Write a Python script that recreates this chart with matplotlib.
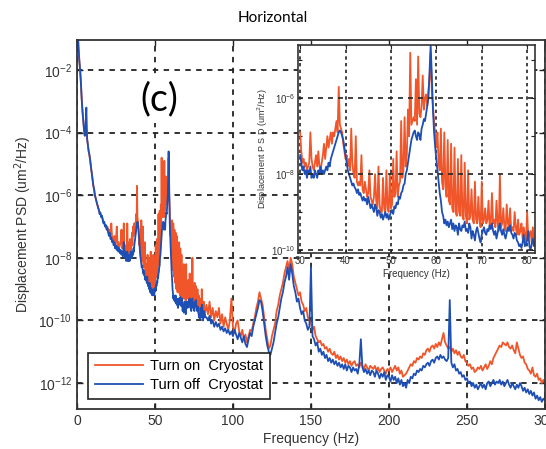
import numpy as np
import matplotlib
matplotlib.use("Agg")
import matplotlib.pyplot as plt
from matplotlib.ticker import FixedLocator, FixedFormatter, NullLocator

plt.rcParams['font.family'] = ['Liberation Sans', 'DejaVu Sans']

# ---------------- data (log10 of PSD, um^2/Hz) ----------------
# low band 0.5 .. 29.5 Hz, step 0.5 Hz
low_freq = np.arange(0.5, 29.75, 0.5)
low_off = [-0.8, -1.3, -1.7, -2.0, -2.4,
           -2.9, -3.3, -3.6, -3.9, -4.1,
           -3.8, -3.2, -4.2, -4.4, -4.6,
           -4.7, -4.9, -5.1, -5.3, -5.5,
           -5.7, -5.8, -6.0, -6.1, -6.2,
           -6.3, -6.4, -6.45, -6.6, -6.55,
           -6.7, -6.65, -6.8, -6.9, -6.85,
           -7.0, -6.95, -7.1, -7.05, -7.2,
           -7.3, -7.2, -7.4, -7.35, -7.5,
           -7.45, -7.6, -7.5, -7.7, -7.6,
           -7.75, -7.65, -7.8, -7.7, -7.85,
           -7.75, -7.9, -7.8, -7.95]
low_on = [-0.8, -1.3, -1.7, -2.0, -2.4,
          -2.9, -3.3, -3.6, -3.9, -4.1,
          -4.0, -3.9, -4.2, -4.4, -4.6,
          -4.75, -4.9, -5.15, -5.3, -5.5,
          -5.7, -5.85, -6.0, -6.1, -6.2,
          -6.3, -6.35, -6.5, -6.55, -6.6,
          -6.65, -6.7, -6.75, -6.85, -6.9,
          -6.95, -7.0, -7.05, -7.0, -7.15,
          -7.2, -7.1, -7.3, -6.9, -7.35,
          -7.4, -7.5, -7.3, -7.55, -7.45,
          -7.0, -7.6, -7.5, -7.7, -7.6,
          -7.5, -7.1, -7.7, -7.6]

# zoom band 30 .. 82 Hz, step 0.25 Hz (also shown in the inset)
mid_freq = np.arange(30.0, 82.001, 0.25)
mid_off = [-7.5, -7.7, -7.9, -7.8, -8.0, -7.9, -8.1, -7.9,
           -8.0, -7.8, -8.1, -8.0, -8.1, -7.9, -8.0, -8.1,
           -7.9, -8.0, -7.8, -8.0, -7.9, -8.0, -7.9, -7.8,
           -7.9, -7.7, -7.8, -7.6, -7.5, -7.4, -7.3, -7.2,
           -7.1, -7.0, -6.9, -6.85, -6.9, -7.0, -7.1, -7.3,
           -7.5, -7.7, -7.9, -8.0, -8.1, -8.2, -8.3, -8.25,
           -8.35, -8.4, -8.5, -8.4, -8.55, -8.5, -8.6, -8.7,
           -8.6, -8.7, -8.65, -8.8, -8.6, -8.75, -8.9, -8.8,
           -8.9, -9.0, -8.8, -8.9, -9.1, -8.95, -9.0, -9.15,
           -9.05, -9.2, -9.1, -9.0, -9.15, -9.05, -9.2, -9.1,
           -9.0, -8.95, -9.05, -8.85, -8.9, -8.75, -8.8, -8.6,
           -8.65, -8.5, -8.45, -8.3, -8.25, -8.0, -7.9, -7.7,
           -7.5, -7.3, -7.1, -7.0, -6.9, -6.85, -7.0, -7.1,
           -6.9, -6.95, -7.1, -6.8, -6.7, -6.55, -6.6, -6.4,
           -6.2, -6.0, -5.3, -4.6, -5.4, -6.3, -6.9, -7.3,
           -7.6, -7.9, -8.2, -8.5, -8.7, -9.0, -9.1, -9.3,
           -9.2, -9.35, -9.25, -9.4, -9.3, -9.2, -9.45, -9.3,
           -9.5, -9.35, -9.4, -9.6, -9.3, -9.45, -9.5, -9.35,
           -9.4, -9.25, -9.5, -9.45, -9.55, -9.3, -9.4, -9.7,
           -9.5, -9.6, -9.75, -9.5, -9.4, -9.55, -9.7, -9.8,
           -9.6, -9.5, -9.4, -9.55, -9.6, -9.45, -9.5, -9.35,
           -9.45, -9.3, -9.5, -9.6, -9.5, -9.7, -9.55, -9.4,
           -9.3, -9.5, -9.6, -9.45, -9.6, -9.7, -9.55, -9.4,
           -9.5, -9.35, -9.55, -9.6, -9.7, -9.55, -9.6, -9.75,
           -9.8, -9.9, -9.85, -9.95, -9.8, -9.6, -9.9, -9.85,
           -9.75, -9.5, -9.9, -10.0, -9.85, -9.7, -9.9, -9.8,
           -9.9]
mid_on = [-6.9, -7.4, -7.7, -7.6, -7.8, -7.7, -7.9, -7.8,
          -7.7, -6.9, -7.6, -7.8, -7.9, -7.7, -7.5, -7.8,
          -7.4, -7.8, -7.9, -7.7, -7.5, -7.2, -7.6, -7.3,
          -7.0, -7.3, -7.1, -6.9, -7.2, -6.9, -7.0, -6.8,
          -6.6, -6.9, -5.7, -6.7, -6.8, -6.9, -7.2, -7.4,
          -7.6, -7.5, -7.8, -7.6, -7.9, -6.8, -7.7, -8.0,
          -8.1, -7.0, -8.2, -8.3, -8.2, -8.3, -7.5, -8.4,
          -8.5, -8.2, -8.4, -8.6, -8.5, -7.9, -8.6, -8.7,
          -8.8, -8.6, -8.0, -8.7, -8.9, -7.8, -8.8, -9.0,
          -9.0, -8.1, -8.9, -9.0, -7.9, -8.9, -9.0, -8.0,
          -8.9, -8.8, -7.6, -8.6, -8.5, -7.4, -8.6, -8.3,
          -8.2, -6.6, -8.1, -7.9, -6.5, -7.8, -7.5, -6.3,
          -7.0, -4.8, -6.7, -6.6, -6.5, -6.6, -5.5, -6.7,
          -4.9, -6.4, -6.5, -6.2, -5.4, -6.3, -6.0, -5.9,
          -6.2, -5.8, -5.5, -4.8, -5.8, -6.2, -6.6, -7.0,
          -7.3, -6.9, -7.7, -7.9, -6.8, -8.2, -8.4, -6.9,
          -8.3, -8.6, -7.1, -8.7, -8.8, -7.2, -8.9, -9.0,
          -7.3, -9.0, -9.1, -7.6, -9.0, -9.1, -7.5, -9.1,
          -9.2, -7.7, -9.1, -9.3, -7.9, -9.2, -9.1, -8.4,
          -9.2, -9.3, -8.2, -9.2, -9.3, -8.6, -9.2, -9.4,
          -8.2, -9.3, -9.2, -8.9, -9.3, -9.2, -8.7, -9.4,
          -9.3, -8.5, -9.3, -9.2, -9.4, -8.7, -9.3, -9.5,
          -8.0, -9.4, -9.3, -8.9, -9.4, -9.5, -8.8, -9.3,
          -9.4, -8.9, -9.5, -9.4, -9.5, -9.0, -9.4, -9.6,
          -9.2, -9.6, -9.5, -9.3, -9.7, -9.4, -9.6, -9.8,
          -9.0, -9.7, -9.6, -9.5, -9.8, -9.4, -9.7, -9.9,
          -9.8]

# high band 83 .. 300 Hz, step 1 Hz
high_freq = np.arange(83, 301, 1)
high_off = [-9.9, -10.0, -9.85, -10.1, -10.0, -10.2, -10.05,
            -10.2, -10.1, -10.3, -10.2, -10.35, -10.25, -10.4, -10.3, -10.45, -10.35,
            -10.5, -10.3, -10.45, -10.6, -10.4, -10.55, -10.7, -10.5, -10.75, -10.85,
            -10.6, -10.4, -10.5, -10.2, -10.0, -9.8, -9.6, -9.35, -9.4, -9.7,
            -10.1, -10.5, -10.8, -11.0, -11.1, -10.9, -10.7, -10.4, -10.1, -9.9,
            -9.6, -9.3, -9.1, -8.8, -8.6, -8.3, -8.7, -8.2, -8.5, -8.9,
            -9.1, -9.4, -9.3, -9.6, -9.8, -9.7, -10.0, -10.1, -10.3, -10.2,
            -8.3, -10.5, -10.6, -10.8, -10.7, -11.0, -10.9, -11.1, -11.0, -11.2,
            -11.1, -11.3, -11.2, -11.35, -11.25, -11.4, -11.3, -11.45, -11.35, -11.5,
            -11.4, -11.55, -11.4, -11.6, -11.45, -11.5, -11.65, -11.5, -11.6, -11.55,
            -11.7, -11.4, -10.6, -11.5, -11.65, -11.55, -11.7, -11.6, -11.75, -11.6,
            -11.65, -11.8, -11.6, -11.7, -11.85, -11.7, -11.8, -11.65, -11.9, -11.75,
            -11.8, -11.95, -11.75, -11.9, -11.8, -12.0, -11.85, -12.05, -11.9, -12.1,
            -12.0, -12.15, -11.9, -12.0, -11.8, -11.85, -11.7, -11.75, -11.6, -11.65,
            -11.55, -11.6, -11.45, -11.5, -11.4, -11.35, -11.45, -11.3, -11.25, -11.35,
            -11.2, -11.15, -11.25, -11.1, -11.2, -11.15, -11.25, -11.3, -11.2, -9.35,
            -11.35, -11.5, -11.4, -11.6, -11.55, -11.7, -11.65, -11.8, -11.75, -11.9,
            -11.85, -12.0, -11.95, -12.1, -12.0, -12.15, -12.05, -12.2, -12.1, -12.0,
            -12.15, -12.05, -12.2, -12.0, -11.95, -12.1, -12.0, -11.9, -12.05, -11.95,
            -12.0, -11.9, -12.05, -11.95, -12.1, -12.0, -11.9, -12.05, -12.15, -12.0,
            -12.1, -12.2, -12.05, -12.15, -12.0, -12.1, -12.25, -12.15, -12.3, -12.2,
            -12.35, -12.25, -12.4, -12.3, -12.5, -12.4, -12.55, -12.45, -12.6, -12.5,
            -12.55]
high_on = [-9.5, -9.8, -9.4, -9.9, -9.6, -10.0, -9.7,
           -9.9, -9.6, -10.1, -9.8, -10.2, -9.9, -10.1, -10.3, -10.0, -9.3,
           -10.2, -10.4, -10.1, -10.0, -10.35, -10.5, -10.3, -10.6, -10.45, -10.7,
           -10.5, -10.3, -10.35, -10.1, -9.9, -9.6, -9.4, -9.1, -9.3, -9.5,
           -9.9, -10.3, -10.6, -10.9, -10.8, -10.5, -10.3, -10.1, -9.7, -9.5,
           -9.2, -9.0, -8.8, -8.5, -8.3, -8.1, -8.4, -8.0, -8.2, -8.6,
           -8.8, -9.0, -9.2, -9.1, -9.4, -9.5, -9.7, -9.6, -9.9, -10.0,
           -10.1, -10.3, -10.2, -10.5, -10.6, -10.7, -10.65, -10.8, -10.75, -10.9,
           -10.85, -11.0, -10.9, -11.05, -11.1, -11.0, -11.2, -11.1, -11.25, -11.15,
           -11.3, -11.2, -11.35, -11.25, -11.4, -11.3, -11.45, -11.35, -11.3, -11.45,
           -11.4, -11.5, -11.35, -11.45, -11.55, -11.4, -11.5, -11.6, -11.45, -11.5,
           -11.55, -11.45, -11.6, -11.5, -11.65, -11.55, -11.5, -11.6, -11.7, -11.55,
           -11.6, -11.5, -11.65, -11.55, -11.45, -11.6, -11.5, -11.7, -11.6, -11.8,
           -11.75, -11.7, -11.6, -11.5, -11.4, -11.45, -11.3, -11.35, -11.2, -11.25,
           -11.15, -11.2, -11.05, -11.1, -10.95, -10.9, -11.0, -10.85, -10.8, -10.9,
           -10.75, -10.85, -10.7, -10.8, -10.6, -10.4, -10.7, -10.8, -10.9, -10.85,
           -11.0, -10.9, -11.05, -10.95, -11.1, -11.0, -11.15, -11.2, -11.1, -11.3,
           -11.35, -11.45, -11.4, -11.55, -11.5, -11.65, -11.6, -11.5, -11.55, -11.45,
           -11.6, -11.5, -11.4, -11.55, -11.45, -11.3, -11.4, -11.2, -11.1, -11.0,
           -10.9, -10.8, -10.85, -10.7, -10.75, -10.8, -10.7, -10.85, -10.9, -10.8,
           -10.95, -11.05, -10.7, -10.9, -11.1, -11.2, -11.15, -11.35, -11.4, -11.55,
           -11.6, -11.7, -11.5, -11.75, -11.8, -11.7, -11.9, -11.85, -12.0, -11.9,
           -12.0]

labels = ["Turn on  Cryostat", "Turn off  Cryostat"]
color_on = "#F0562A"
color_off = "#1E4FB4"

freq = np.concatenate([low_freq, mid_freq, high_freq])
psd_on = 10.0 ** np.concatenate([low_on, mid_on, high_on])
psd_off = 10.0 ** np.concatenate([low_off, mid_off, high_off])
mid_psd_on = 10.0 ** np.array(mid_on)
mid_psd_off = 10.0 ** np.array(mid_off)

# ---------------- figure ----------------
fig = plt.figure(figsize=(5.46, 4.49), dpi=100)
ax = fig.add_axes([0.141, 0.089, 0.857, 0.822])

ax.plot(freq, psd_on, color=color_on, lw=1.3, label=labels[0])
ax.plot(freq, psd_off, color=color_off, lw=1.3, label=labels[1])
ax.set_yscale('log')
ax.set_xlim(0, 300)
ax.set_ylim(10 ** -12.83, 10 ** -1.04)
ax.set_xticks([0, 50, 100, 150, 200, 250, 300])
ax.yaxis.set_major_locator(FixedLocator([1e-12, 1e-10, 1e-8, 1e-6, 1e-4, 1e-2]))
ax.yaxis.set_minor_locator(NullLocator())
ax.tick_params(direction='in', top=True, right=True, labelsize=10, length=4, width=1,
               colors='#222222', labelcolor='#333333')
ax.grid(True, which='major', color='#222222', linestyle=(0, (3, 3)), lw=1.3)
for s in ax.spines.values():
    s.set_linewidth(1.3)
    s.set_color('#333333')
ax.set_xlabel("Frequency (Hz)", fontsize=10, color='#333333', labelpad=3)
ax.set_ylabel("Displacement PSD (um$^2$/Hz)", fontsize=10, color='#333333', labelpad=3)

leg = ax.legend(loc='lower left', bbox_to_anchor=(0.008, 0.008), fontsize=10.5,
                frameon=True, fancybox=False, framealpha=1, edgecolor='#222222',
                handlelength=3.3, borderpad=0.45, labelspacing=0.35, handletextpad=0.5)
leg.get_frame().set_linewidth(1.2)

ax.text(0.175, 0.84, "(c)", transform=ax.transAxes, fontsize=27, family='Lato',
        ha='center', va='center', color='black',
        bbox=dict(facecolor='white', edgecolor='none', pad=4))
fig.text(0.5, 0.96, "Horizontal", ha='center', va='center', fontsize=11, family='Lato')

# ---------------- inset ----------------
axi = fig.add_axes([0.546, 0.4365, 0.434, 0.463])
axi.plot(mid_freq, mid_psd_on, color=color_on, lw=1.3)
axi.plot(mid_freq, mid_psd_off, color=color_off, lw=1.3)
axi.set_yscale('log')
axi.set_xlim(29.55, 81.75)
axi.set_ylim(10 ** -10.08, 10 ** -4.6)
axi.set_xticks([30, 40, 50, 60, 70, 80])
axi.yaxis.set_major_locator(FixedLocator([1e-10, 1e-9, 1e-8, 1e-7, 1e-6, 1e-5]))
axi.yaxis.set_major_formatter(FixedFormatter(
    [r"$\mathdefault{10^{-10}}$", "", r"$\mathdefault{10^{-8}}$", "",
     r"$\mathdefault{10^{-6}}$", ""]))
axi.yaxis.set_minor_locator(NullLocator())
axi.tick_params(direction='in', top=True, right=True, labelsize=7, length=3, width=0.8,
                pad=2, colors='#222222', labelcolor='#333333')
axi.xaxis.grid(True, color='#222222', linestyle=(0, (2, 2)), lw=1.2)
for yv in [1e-10, 1e-8, 1e-6]:
    axi.axhline(yv, color='#222222', linestyle=(0, (3, 3)), lw=1.2)
for s in axi.spines.values():
    s.set_linewidth(1.2)
    s.set_color('#333333')
axi.set_xlabel("Frequency (Hz)", fontsize=7, color='#333333', labelpad=2)
axi.set_ylabel("Displacement P S D (um$^2$/Hz)", fontsize=6.5, color='#333333', labelpad=1)

fig.savefig("out.png", dpi=100)
